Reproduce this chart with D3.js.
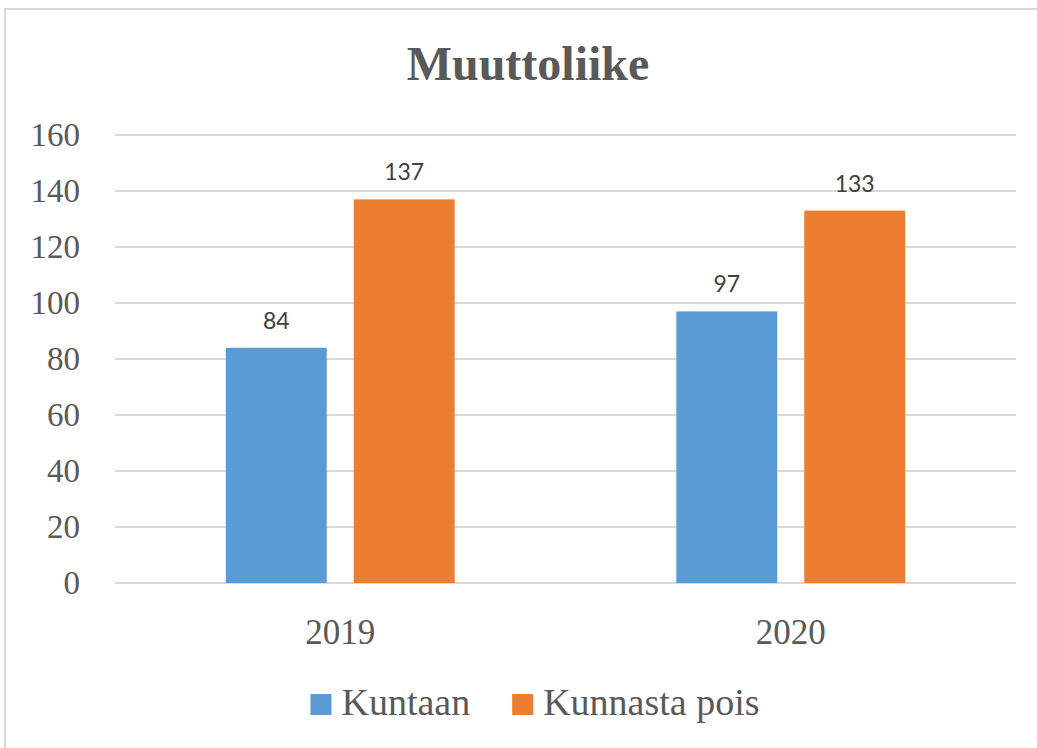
<!DOCTYPE html>
<html>
<head>
<meta charset="utf-8">
<script src="https://cdn.jsdelivr.net/npm/d3@7"></script>
<style>
  body { margin: 0; background: #fff; }
  svg { display: block; }
</style>
</head>
<body>
<svg id="container"></svg>
<script>
const years = ['2019', '2020'];
const seriesNames = ['Kuntaan', 'Kunnasta pois'];
const kuntaan = [84, 97];
const kunnastaPois = [137, 133];
const yTicks = [0, 20, 40, 60, 80, 100, 120, 140, 160];
const colors = ['#5B9BD5', '#ED7D31'];

function drawChart() {
  const W = 1037, H = 748;
  const margin = { top: 135, right: 21, bottom: 165, left: 115 };
  const w = W - margin.left - margin.right;
  const h = H - margin.top - margin.bottom;

  const root = d3.select('#container').attr('width', W).attr('height', H);

  // outer frame (runs off right and bottom edge)
  root.append('rect')
    .attr('x', 5).attr('y', 9)
    .attr('width', W + 20).attr('height', H + 20)
    .attr('fill', 'none')
    .attr('stroke', '#d9d9d9')
    .attr('stroke-width', 2);

  root.append('text')
    .attr('x', 528).attr('y', 80)
    .attr('text-anchor', 'middle')
    .style('font-family', '"Liberation Serif", serif')
    .style('font-weight', 'bold')
    .style('font-size', '48px')
    .attr('fill', '#595959')
    .text('Muuttoliike');

  const svg = root.append('g')
    .attr('transform', 'translate(' + margin.left + ',' + margin.top + ')');

  const yScale = d3.scaleLinear().domain([0, 160]).range([h, 0]);
  const x0 = d3.scaleBand().domain(years).range([0, w]);
  const groupW = x0.bandwidth() * 0.508;
  const x1 = d3.scaleBand().domain(seriesNames).range([0, groupW]).paddingInner(0.211);

  // gridlines
  svg.append('g').selectAll('line')
    .data(yTicks)
    .enter()
    .append('line')
    .attr('x1', 0).attr('x2', w)
    .attr('y1', (d) => yScale(d)).attr('y2', (d) => yScale(d))
    .attr('stroke', '#d9d9d9')
    .attr('stroke-width', 2);

  const yAxis = d3.axisLeft(yScale).tickValues(yTicks).tickSize(0).tickPadding(35);
  const gY = svg.append('g').call(yAxis);
  gY.select('.domain').remove();
  gY.selectAll('text')
    .style('font-family', '"Liberation Serif", serif')
    .style('font-size', '33px')
    .attr('fill', '#595959')
    .attr('dy', '0.33em');

  const xAxis = d3.axisBottom(x0).tickSize(0).tickPadding(36);
  const gX = svg.append('g').attr('transform', 'translate(0,' + h + ')').call(xAxis);
  gX.select('.domain').remove();
  gX.selectAll('text')
    .style('font-family', '"Liberation Serif", serif')
    .style('font-size', '35px')
    .attr('fill', '#595959');

  const rows = years.map((y, i) => ({ year: y, values: [kuntaan[i], kunnastaPois[i]] }));

  const groups = svg.selectAll('.group')
    .data(rows)
    .enter()
    .append('g')
    .attr('class', 'group')
    .attr('transform', (d) => 'translate(' + (x0(d.year) + (x0.bandwidth() - groupW) / 2) + ',0)');

  groups.selectAll('rect')
    .data((d) => d.values.map((v, j) => ({ name: seriesNames[j], value: v, j: j })))
    .enter()
    .append('rect')
    .attr('x', (d) => x1(d.name))
    .attr('y', (d) => yScale(d.value))
    .attr('width', x1.bandwidth())
    .attr('height', (d) => h - yScale(d.value))
    .attr('fill', (d) => colors[d.j]);

  groups.selectAll('.lbl')
    .data((d) => d.values.map((v, j) => ({ name: seriesNames[j], value: v })))
    .enter()
    .append('text')
    .attr('class', 'lbl')
    .attr('x', (d) => x1(d.name) + x1.bandwidth() / 2)
    .attr('y', (d) => yScale(d.value) - 19)
    .attr('text-anchor', 'middle')
    .style('font-family', 'Lato, sans-serif')
    .style('font-size', '23px')
    .attr('fill', '#404040')
    .text((d) => d.value);

  // legend
  const legend = root.append('g');
  let cx = 0;
  seriesNames.forEach((name, i) => {
    const item = legend.append('g').attr('transform', 'translate(' + cx + ',0)');
    item.append('rect')
      .attr('x', 0).attr('y', -21)
      .attr('width', 21).attr('height', 21)
      .attr('fill', colors[i]);
    const t = item.append('text')
      .attr('x', 31).attr('y', 0)
      .style('font-family', '"Liberation Serif", serif')
      .style('font-size', '38px')
      .attr('fill', '#595959')
      .text(name);
    cx += 31 + t.node().getComputedTextLength() + 42;
  });
  const legW = cx - 42;
  legend.attr('transform', 'translate(' + (535 - legW / 2) + ',715)');
}

drawChart();
</script>
</body>
</html>
